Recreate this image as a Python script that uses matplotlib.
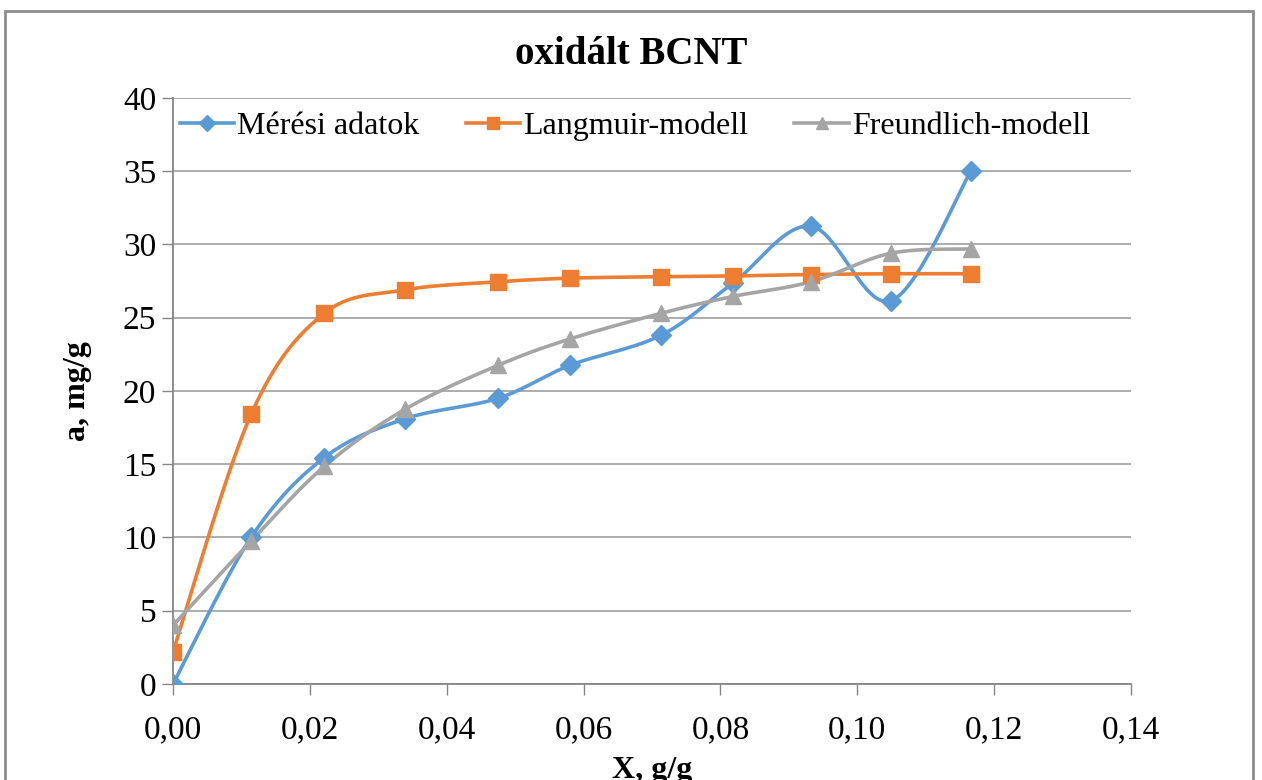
import matplotlib
matplotlib.use("Agg")
import matplotlib.pyplot as plt
import numpy as np

plt.rcParams['font.family'] = ['Liberation Serif', 'DejaVu Serif']

x = [0.0, 0.0114, 0.0221, 0.0339, 0.0475, 0.0580, 0.0713, 0.0818, 0.0932, 0.1049, 0.1166]
meres = [0.0, 10.0, 15.45, 18.1, 19.5, 21.75, 23.8, 27.35, 31.25, 26.15, 35.0]
langmuir = [2.2, 18.4, 25.3, 26.9, 27.45, 27.7, 27.8, 27.85, 27.95, 28.0, 28.0]
freundlich = [4.0, 9.75, 14.85, 18.75, 21.75, 23.55, 25.3, 26.45, 27.45, 29.4, 29.7]

series = [
    ("Mérési adatok", meres, "#5b9bd5", "D", 10),
    ("Langmuir-modell", langmuir, "#ed7d31", "s", 11),
    ("Freundlich-modell", freundlich, "#a5a5a5", "^", 11),
]


def smooth(xs, ys, n=30):
    # Catmull-Rom style smoothing like the spreadsheet's "smoothed line"
    p = np.column_stack([xs, ys])
    ext = np.vstack([p[0], p, p[-1]])
    out = []
    for i in range(1, len(ext) - 2):
        p0, p1, p2, p3 = ext[i - 1], ext[i], ext[i + 1], ext[i + 2]
        c1 = p1 + (p2 - p0) / 6
        c2 = p2 - (p3 - p1) / 6
        t = np.linspace(0, 1, n)[:, None]
        seg = (1 - t) ** 3 * p1 + 3 * (1 - t) ** 2 * t * c1 + 3 * (1 - t) * t ** 2 * c2 + t ** 3 * p2
        out.append(seg if i == 1 else seg[1:])
    out = np.vstack(out)
    return out[:, 0], out[:, 1]


fig = plt.figure(figsize=(12.62, 7.80), dpi=100)
ax = fig.add_axes([0.1371, 0.1231, 0.7591, 0.7513])

handles = []
for name, ys, col, mk, ms in series:
    sx, sy = smooth(x, ys)
    ax.plot(sx, sy, color=col, lw=2.6, zorder=3, solid_capstyle='round')
    ax.plot(x, ys, ls='none', marker=mk, ms=ms, color=col, mec=col, zorder=4)
    h, = ax.plot([], [], color=col, lw=2.6, marker=mk, ms=ms * 0.85, mec=col, label=name)
    handles.append(h)

ax.set_xlim(0, 0.14)
ax.set_ylim(0, 40)
ax.set_xticks(np.arange(0, 0.141, 0.02))
ax.set_xticklabels([f"{v:.2f}".replace('.', ',') for v in np.arange(0, 0.141, 0.02)])
ax.set_yticks(range(0, 41, 5))
ax.grid(axis='y', color='#a6a6a6', lw=1.3)
ax.set_axisbelow(True)
for s in ['top', 'right']:
    ax.spines[s].set_visible(False)
for s in ['left', 'bottom']:
    ax.spines[s].set_color('#868686')
    ax.spines[s].set_linewidth(1.3)
ax.tick_params(axis='both', colors='#868686', labelcolor='black', labelsize=24,
               length=8, width=1.0, direction='out')
ax.tick_params(axis='x', pad=14)
ax.tick_params(axis='y', pad=4)

fig.text(0.5, 0.93, "oxidált BCNT", fontsize=28, fontweight='bold', ha='center', va='center')
ax.set_xlabel("X, g/g", fontsize=23, fontweight='bold', labelpad=8)
ax.set_ylabel("a, mg/g", fontsize=23, fontweight='bold', labelpad=22)

ax.legend(handles=handles, loc='upper center', bbox_to_anchor=(0.482, 1.01), ncol=3,
          frameon=False, fontsize=23, handlelength=1.7, handletextpad=0.1,
          columnspacing=1.45, borderaxespad=0.2)

border = plt.Rectangle((0.004, -0.05), 0.9885, 1.036, transform=fig.transFigure,
                       fill=False, ec='#8c8c8c', lw=2.0)
fig.patches.append(border)

fig.savefig("out.png", dpi=100)
